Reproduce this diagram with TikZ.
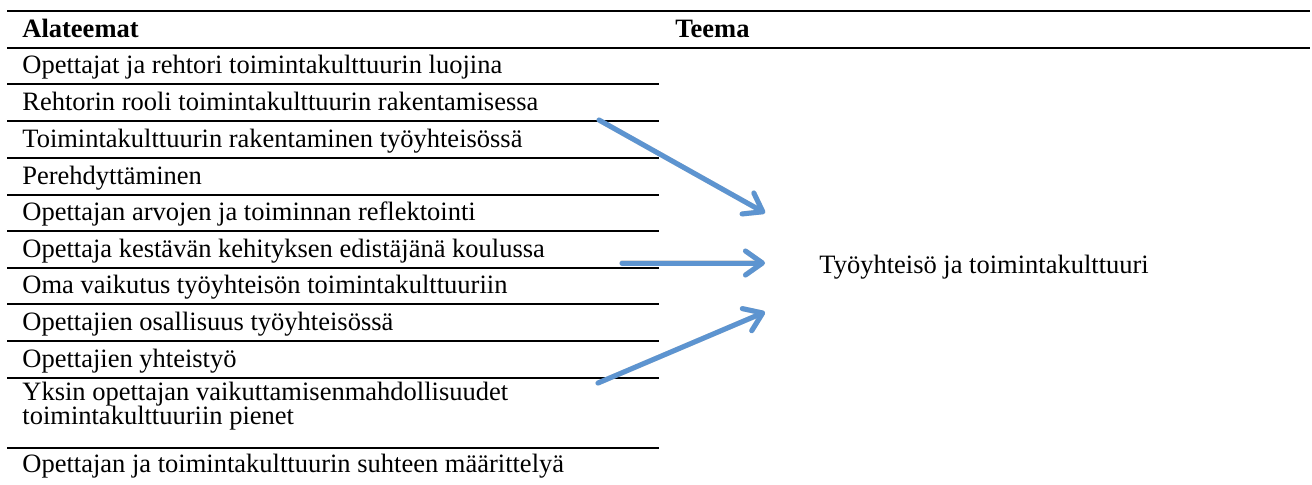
\documentclass[tikz,border=0pt]{standalone}
\usepackage{fontspec}
\setmainfont{Liberation Serif}
\usetikzlibrary{arrows.meta}
\definecolor{arrowblue}{RGB}{93,148,208}
\definecolor{shadowgray}{RGB}{150,150,150}
\tikzset{
  % Taulukon viivat
  headrule/.style  = {draw=black, line width=0.8pt},
  rowrule/.style   = {draw=black, line width=0.6pt},
  % Tekstit
  cell/.style      = {anchor=base west, inner sep=0pt, font=\fontsize{13.25pt}{15pt}\selectfont},
  headcell/.style  = {cell, font=\fontsize{13.25pt}{15pt}\selectfont\bfseries},
  % Nuolet
  themearrow/.style = {draw=arrowblue, line width=2.5pt, line cap=round,
    -{Straight Barb[length=8.5pt, width=12pt, round]}},
  arrowshadow/.style = {draw=shadowgray, opacity=0.35, line width=2.6pt, line cap=round,
    -{Straight Barb[length=8.5pt, width=12pt, round]}},
}
\begin{document}
\begin{tikzpicture}[x=0.5pt, y=-0.5pt]
  \useasboundingbox (0,0) rectangle (1312,484);
  % Otsikkorivi
  \draw[headrule] (7,11) -- (1310,11);
  \draw[headrule] (7,48) -- (1310,48);
  \node[headcell] (alateemat) at (22,37) {Alateemat};
  \node[headcell] (teema) at (675,37) {Teema};
  % Rivien viivat
  \foreach \y in {84,121,158,195,231,268,304,341,378,448}
    \draw[rowrule] (7,\y) -- (659,\y);
  % Alateemat
  \node[cell] (r1) at (22,73) {Opettajat ja rehtori toimintakulttuurin luojina};
  \node[cell] (r2) at (22,110) {Rehtorin rooli toimintakulttuurin rakentamisessa};
  \node[cell] (r3) at (22,147) {Toimintakulttuurin rakentaminen työyhteisössä};
  \node[cell] (r4) at (22,184) {Perehdyttäminen};
  \node[cell] (r5) at (22,220) {Opettajan arvojen ja toiminnan reflektointi};
  \node[cell] (r6) at (22,257) {Opettaja kestävän kehityksen edistäjänä koulussa};
  \node[cell] (r7) at (22,293) {Oma vaikutus työyhteisön toimintakulttuuriin};
  \node[cell] (r8) at (22,330) {Opettajien osallisuus työyhteisössä};
  \node[cell] (r9) at (22,367) {Opettajien yhteistyö};
  \node[cell] (r10a) at (22,400) {Yksin opettajan vaikuttamisenmahdollisuudet};
  \node[cell] (r10b) at (22,424) {toimintakulttuuriin pienet};
  \node[cell] (r11) at (22,472) {Opettajan ja toimintakulttuurin suhteen määrittelyä};
  % Teema
  \node[cell] (theme) at (819,273) {Työyhteisö ja toimintakulttuuri};
  % Nuolten päät
  \coordinate (a1s) at (599,120);
  \coordinate (a1e) at (765,213);
  \coordinate (a2s) at (622,263);
  \coordinate (a2e) at (765,263);
  \coordinate (a3s) at (598,383);
  \coordinate (a3e) at (765,312);
  % Varjot
  \begin{scope}[shift={(1.5,2)}]
    \draw[arrowshadow] (a1s) -- (a1e);
    \draw[arrowshadow] (a2s) -- (a2e);
    \draw[arrowshadow] (a3s) -- (a3e);
  \end{scope}
  % Nuolet
  \draw[themearrow] (a1s) -- (a1e);
  \draw[themearrow] (a2s) -- (a2e);
  \draw[themearrow] (a3s) -- (a3e);
\end{tikzpicture}
\end{document}
